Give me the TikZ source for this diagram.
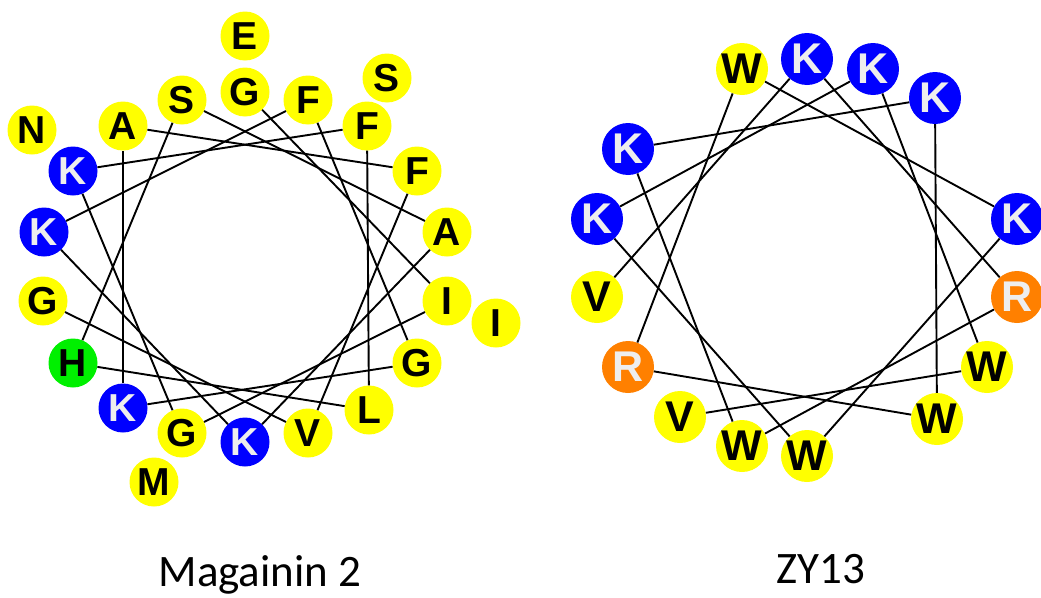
\documentclass[tikz,border=0pt]{standalone}
\usepackage{fontspec}
\setmainfont{Carlito}
\newfontfamily\resfont{Liberation Sans}
\usepackage{tikz}
\usetikzlibrary{shapes,arrows}
\definecolor{resyellow}{RGB}{255,255,0}
\definecolor{resblue}{RGB}{0,0,255}
\definecolor{resgreen}{RGB}{0,240,0}
\definecolor{resorange}{RGB}{255,128,0}
\definecolor{reswhite}{RGB}{238,238,238}
\tikzstyle{line} = [draw, line width=1.9pt]
\tikzstyle{res} = [circle, inner sep=0pt, minimum size=49pt, font=\resfont\bfseries\fontsize{39}{39}\selectfont]
\tikzstyle{res_y} = [res, fill=resyellow, text=black]
\tikzstyle{res_b} = [res, fill=resblue, text=reswhite]
\tikzstyle{res_g} = [res, fill=resgreen, text=black]
\tikzstyle{res_o} = [res, fill=resorange, text=reswhite]
\tikzstyle{big} = [minimum size=52pt, font=\resfont\bfseries\fontsize{43}{43}\selectfont]
\tikzstyle{wheel_name} = [anchor=base, font=\fontsize{45}{45}\selectfont]

\begin{document}
\begin{tikzpicture}[x=1pt, y=-1pt]
\useasboundingbox (0,0) rectangle (1041,597);

% Magainin 2, inner ring
\node [res_y] (m1) at (245,92) {G};
\node [res_y] (m2) at (447,301) {I};
\node [res_y] (m3) at (182,433) {G};
\node [res_b] (m4) at (73,171) {K};
\node [res_y] (m5) at (367,126) {F};
\node [res_y] (m6) at (369,410) {L};
\node [res_g] (m7) at (73,363) {H};
\node [res_y] (m8) at (182,100) {S};
\node [res_y] (m9) at (447,232) {A};
\node [res_b] (m10) at (245,442) {K};
\node [res_b] (m11) at (44,232) {K};
\node [res_y] (m12) at (308,100) {F};
\node [res_y] (m13) at (417,363) {G};
\node [res_b] (m14) at (123,408) {K};
\node [res_y] (m15) at (123,126) {A};
\node [res_y] (m16) at (417,171) {F};
\node [res_y] (m17) at (308,433) {V};
\node [res_y] (m18) at (43,301) {G};

% Magainin 2, outer ring
\node [res_y] (m19) at (245,36) {E};
\node [res_y] (m20) at (496,323) {I};
\node [res_y] (m21) at (154,482) {M};
\node [res_y] (m22) at (32,130) {N};
\node [res_y] (m23) at (387,78) {S};

\foreach \i [evaluate=\i as \j using int(\i+1)] in {1,...,17}
  \path [line] (m\i) to (m\j);

\node [wheel_name] (mag) at (260,586) {Magainin 2};

% ZY13
\node [res_y, big] (z1) at (597,297) {V};
\node [res_b, big] (z2) at (807,59) {K};
\node [res_o, big] (z3) at (1017,297) {R};
\node [res_y, big] (z4) at (742,446) {W};
\node [res_b, big] (z5) at (628,149) {K};
\node [res_b, big] (z6) at (935,98) {K};
\node [res_y, big] (z7) at (937,419) {W};
\node [res_o, big] (z8) at (628,367) {R};
\node [res_y, big] (z9) at (742,69) {W};
\node [res_b, big] (z10) at (1017,219) {K};
\node [res_y, big] (z11) at (807,456) {W};
\node [res_b, big] (z12) at (597,219) {K};
\node [res_b, big] (z13) at (873,69) {K};
\node [res_y, big] (z14) at (987,367) {W};
\node [res_y, big] (z15) at (680,417) {V};

\foreach \i [evaluate=\i as \j using int(\i+1)] in {1,...,14}
  \path [line] (z\i) to (z\j);

\node [wheel_name] (zy) at (821,583) {ZY13};
\end{tikzpicture}
\end{document}
